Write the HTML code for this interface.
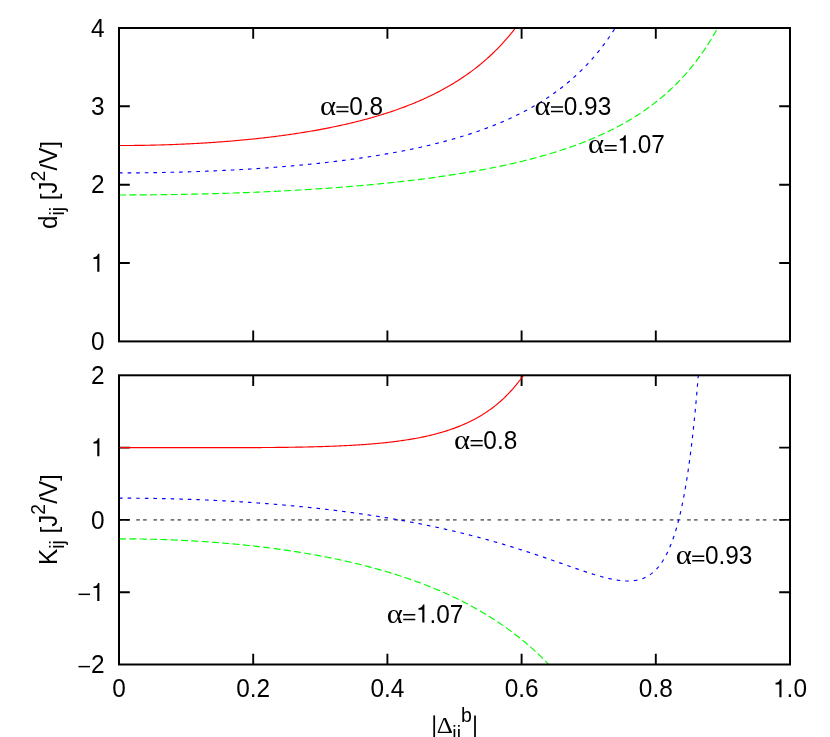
<!DOCTYPE html>
<html><head><meta charset="utf-8"><title>plot</title>
<style>html,body{margin:0;padding:0;background:#fff;overflow:hidden;}svg{display:block;will-change:transform;}</style>
</head><body>
<svg width="830" height="737" viewBox="0 0 830 737">
<defs>
<clipPath id="ct"><rect x="119.0" y="28.0" width="671.0" height="313.4"/></clipPath>
<clipPath id="cb"><rect x="119.0" y="375.3" width="671.0" height="289.2"/></clipPath>
</defs>
<rect width="830" height="737" fill="#fff"/>
<path d="M119.0,519.9 H790.0" stroke="#757575" stroke-width="1.7" stroke-dasharray="3.6 3.28 3.6 6.735" fill="none"/>
<path d="M253.2,341.4 v-10.8 M253.2,28.0 v10.8 M387.4,341.4 v-10.8 M387.4,28.0 v10.8 M521.6,341.4 v-10.8 M521.6,28.0 v10.8 M655.8,341.4 v-10.8 M655.8,28.0 v10.8 M119.0,263.0 h10.8 M790.0,263.0 h-10.8 M119.0,184.7 h10.8 M790.0,184.7 h-10.8 M119.0,106.3 h10.8 M790.0,106.3 h-10.8" stroke="#000" stroke-width="1.9" fill="none"/>
<path d="M253.2,664.5 v-10.8 M253.2,375.3 v10.8 M387.4,664.5 v-10.8 M387.4,375.3 v10.8 M521.6,664.5 v-10.8 M521.6,375.3 v10.8 M655.8,664.5 v-10.8 M655.8,375.3 v10.8 M119.0,592.2 h10.8 M790.0,592.2 h-10.8 M119.0,519.9 h10.8 M790.0,519.9 h-10.8 M119.0,447.6 h10.8 M790.0,447.6 h-10.8" stroke="#000" stroke-width="1.9" fill="none"/>
<g clip-path="url(#ct)" fill="none" stroke-width="1.15">
<path d="M119.00,145.52 L120.33,145.52 L121.66,145.52 L122.99,145.52 L124.31,145.52 L125.64,145.51 L126.97,145.50 L128.30,145.50 L129.63,145.49 L130.96,145.48 L132.29,145.46 L133.61,145.45 L134.94,145.44 L136.27,145.42 L137.60,145.41 L138.93,145.39 L140.26,145.37 L141.59,145.35 L142.91,145.33 L144.24,145.31 L145.57,145.28 L146.90,145.26 L148.23,145.23 L149.56,145.21 L150.89,145.18 L152.21,145.15 L153.54,145.12 L154.87,145.09 L156.20,145.05 L157.53,145.02 L158.86,144.98 L160.18,144.95 L161.51,144.91 L162.84,144.87 L164.17,144.83 L165.50,144.78 L166.83,144.74 L168.16,144.70 L169.48,144.65 L170.81,144.60 L172.14,144.56 L173.47,144.51 L174.80,144.46 L176.13,144.40 L177.46,144.35 L178.78,144.29 L180.11,144.24 L181.44,144.18 L182.77,144.12 L184.10,144.06 L185.43,144.00 L186.76,143.94 L188.08,143.88 L189.41,143.81 L190.74,143.74 L192.07,143.68 L193.40,143.61 L194.73,143.54 L196.06,143.46 L197.38,143.39 L198.71,143.32 L200.04,143.24 L201.37,143.16 L202.70,143.08 L204.03,143.00 L205.36,142.92 L206.68,142.84 L208.01,142.76 L209.34,142.67 L210.67,142.58 L212.00,142.49 L213.33,142.40 L214.66,142.31 L215.98,142.22 L217.31,142.13 L218.64,142.03 L219.97,141.93 L221.30,141.83 L222.63,141.73 L223.96,141.63 L225.28,141.53 L226.61,141.42 L227.94,141.32 L229.27,141.21 L230.60,141.10 L231.93,140.99 L233.25,140.88 L234.58,140.76 L235.91,140.65 L237.24,140.53 L238.57,140.41 L239.90,140.29 L241.23,140.17 L242.55,140.05 L243.88,139.92 L245.21,139.79 L246.54,139.67 L247.87,139.54 L249.20,139.40 L250.53,139.27 L251.85,139.13 L253.18,139.00 L254.51,138.86 L255.84,138.72 L257.17,138.58 L258.50,138.43 L259.83,138.29 L261.15,138.14 L262.48,137.99 L263.81,137.84 L265.14,137.69 L266.47,137.53 L267.80,137.37 L269.13,137.21 L270.45,137.05 L271.78,136.89 L273.11,136.73 L274.44,136.56 L275.77,136.39 L277.10,136.22 L278.43,136.05 L279.75,135.88 L281.08,135.70 L282.41,135.52 L283.74,135.34 L285.07,135.16 L286.40,134.98 L287.73,134.79 L289.05,134.60 L290.38,134.41 L291.71,134.22 L293.04,134.02 L294.37,133.82 L295.70,133.62 L297.03,133.42 L298.35,133.22 L299.68,133.01 L301.01,132.80 L302.34,132.59 L303.67,132.38 L305.00,132.16 L306.33,131.94 L307.65,131.72 L308.98,131.50 L310.31,131.28 L311.64,131.05 L312.97,130.82 L314.30,130.58 L315.62,130.35 L316.95,130.11 L318.28,129.87 L319.61,129.63 L320.94,129.38 L322.27,129.13 L323.60,128.88 L324.92,128.63 L326.25,128.37 L327.58,128.11 L328.91,127.85 L330.24,127.58 L331.57,127.31 L332.90,127.04 L334.22,126.77 L335.55,126.49 L336.88,126.21 L338.21,125.92 L339.54,125.64 L340.87,125.35 L342.20,125.05 L343.52,124.76 L344.85,124.46 L346.18,124.16 L347.51,123.85 L348.84,123.54 L350.17,123.23 L351.50,122.91 L352.82,122.59 L354.15,122.27 L355.48,121.94 L356.81,121.61 L358.14,121.28 L359.47,120.94 L360.80,120.60 L362.12,120.25 L363.45,119.90 L364.78,119.55 L366.11,119.19 L367.44,118.83 L368.77,118.46 L370.10,118.09 L371.42,117.72 L372.75,117.34 L374.08,116.96 L375.41,116.57 L376.74,116.18 L378.07,115.79 L379.40,115.39 L380.72,114.98 L382.05,114.57 L383.38,114.16 L384.71,113.74 L386.04,113.32 L387.37,112.89 L388.69,112.46 L390.02,112.02 L391.35,111.58 L392.68,111.13 L394.01,110.67 L395.34,110.21 L396.67,109.75 L397.99,109.28 L399.32,108.80 L400.65,108.32 L401.98,107.83 L403.31,107.34 L404.64,106.84 L405.97,106.34 L407.29,105.83 L408.62,105.31 L409.95,104.78 L411.28,104.25 L412.61,103.72 L413.94,103.18 L415.27,102.63 L416.59,102.07 L417.92,101.50 L419.25,100.93 L420.58,100.36 L421.91,99.77 L423.24,99.18 L424.57,98.58 L425.89,97.97 L427.22,97.35 L428.55,96.73 L429.88,96.10 L431.21,95.46 L432.54,94.81 L433.87,94.16 L435.19,93.49 L436.52,92.82 L437.85,92.13 L439.18,91.44 L440.51,90.74 L441.84,90.03 L443.17,89.31 L444.49,88.58 L445.82,87.84 L447.15,87.09 L448.48,86.33 L449.81,85.56 L451.14,84.77 L452.47,83.98 L453.79,83.18 L455.12,82.36 L456.45,81.53 L457.78,80.69 L459.11,79.84 L460.44,78.98 L461.76,78.10 L463.09,77.22 L464.42,76.31 L465.75,75.40 L467.08,74.47 L468.41,73.53 L469.74,72.57 L471.06,71.60 L472.39,70.61 L473.72,69.61 L475.05,68.59 L476.38,67.56 L477.71,66.51 L479.04,65.44 L480.36,64.36 L481.69,63.26 L483.02,62.14 L484.35,61.01 L485.68,59.85 L487.01,58.68 L488.34,57.49 L489.66,56.27 L490.99,55.04 L492.32,53.79 L493.65,52.51 L494.98,51.21 L496.31,49.89 L497.64,48.55 L498.96,47.18 L500.29,45.79 L501.62,44.38 L502.95,42.94 L504.28,41.47 L505.61,39.98 L506.94,38.46 L508.26,36.91 L509.59,35.33 L510.92,33.72 L512.25,32.08 L513.58,30.41 L514.91,28.71 L516.24,26.97 L517.56,25.20 L518.89,23.40 L520.22,21.56 L521.55,19.68 L522.88,17.76 L524.21,15.80 L525.54,13.80 L526.86,11.76 L528.19,9.68 L529.52,7.55 L530.85,5.38 L532.18,3.16 L533.51,0.89 L534.84,-1.44 L536.16,-3.81 L537.49,-6.24 L538.82,-8.73 L540.15,-11.27 L541.48,-13.87 L542.81,-16.54 L544.13,-19.27 L545.46,-22.06 L546.79,-24.93 L548.12,-27.87 L549.45,-30.88 L550.78,-33.97 L552.11,-37.14 L553.43,-40.39 L554.76,-43.73 L556.09,-47.16 L557.42,-50.35" stroke="#ff0000"/>
<path d="M119.00,194.95 L120.68,194.95 L122.36,194.95 L124.04,194.95 L125.72,194.94 L127.40,194.94 L129.08,194.94 L130.76,194.93 L132.44,194.93 L134.12,194.92 L135.80,194.91 L137.48,194.90 L139.16,194.89 L140.84,194.88 L142.52,194.87 L144.20,194.86 L145.88,194.85 L147.56,194.84 L149.24,194.82 L150.92,194.81 L152.60,194.79 L154.28,194.77 L155.96,194.76 L157.64,194.74 L159.32,194.72 L161.00,194.70 L162.68,194.68 L164.36,194.66 L166.04,194.64 L167.72,194.61 L169.40,194.59 L171.08,194.56 L172.76,194.54 L174.44,194.51 L176.12,194.48 L177.80,194.46 L179.48,194.43 L181.16,194.40 L182.84,194.37 L184.52,194.34 L186.20,194.30 L187.88,194.27 L189.56,194.24 L191.24,194.20 L192.92,194.17 L194.60,194.13 L196.28,194.09 L197.96,194.05 L199.64,194.02 L201.32,193.98 L203.00,193.94 L204.68,193.89 L206.36,193.85 L208.04,193.81 L209.72,193.76 L211.40,193.72 L213.08,193.67 L214.76,193.63 L216.44,193.58 L218.12,193.53 L219.80,193.48 L221.48,193.43 L223.16,193.38 L224.84,193.32 L226.52,193.27 L228.20,193.22 L229.88,193.16 L231.56,193.11 L233.24,193.05 L234.92,192.99 L236.60,192.93 L238.28,192.87 L239.96,192.81 L241.64,192.75 L243.32,192.69 L245.00,192.62 L246.68,192.56 L248.36,192.49 L250.04,192.43 L251.72,192.36 L253.40,192.29 L255.08,192.22 L256.76,192.15 L258.44,192.08 L260.12,192.01 L261.80,191.94 L263.48,191.86 L265.16,191.79 L266.84,191.71 L268.52,191.63 L270.20,191.55 L271.88,191.47 L273.56,191.39 L275.24,191.31 L276.92,191.23 L278.60,191.14 L280.28,191.06 L281.96,190.97 L283.64,190.89 L285.32,190.80 L287.00,190.71 L288.68,190.62 L290.36,190.53 L292.04,190.44 L293.72,190.34 L295.40,190.25 L297.08,190.15 L298.76,190.05 L300.44,189.96 L302.12,189.86 L303.80,189.76 L305.48,189.65 L307.16,189.55 L308.84,189.45 L310.52,189.34 L312.20,189.24 L313.88,189.13 L315.56,189.02 L317.24,188.91 L318.92,188.80 L320.60,188.68 L322.28,188.57 L323.96,188.45 L325.64,188.34 L327.32,188.22 L329.00,188.10 L330.68,187.98 L332.36,187.86 L334.04,187.74 L335.72,187.61 L337.40,187.48 L339.08,187.36 L340.76,187.23 L342.44,187.10 L344.12,186.97 L345.80,186.83 L347.48,186.70 L349.16,186.56 L350.84,186.43 L352.52,186.29 L354.20,186.15 L355.88,186.01 L357.56,185.86 L359.24,185.72 L360.92,185.57 L362.60,185.43 L364.28,185.28 L365.96,185.12 L367.64,184.97 L369.32,184.82 L371.00,184.66 L372.68,184.51 L374.36,184.35 L376.04,184.19 L377.72,184.02 L379.40,183.86 L381.08,183.69 L382.76,183.53 L384.44,183.36 L386.12,183.19 L387.80,183.01 L389.48,182.84 L391.16,182.66 L392.84,182.49 L394.52,182.31 L396.20,182.12 L397.88,181.94 L399.56,181.75 L401.24,181.57 L402.92,181.38 L404.60,181.19 L406.28,180.99 L407.96,180.80 L409.64,180.60 L411.32,180.40 L413.00,180.20 L414.68,180.00 L416.36,179.79 L418.04,179.58 L419.72,179.37 L421.40,179.16 L423.08,178.95 L424.76,178.73 L426.44,178.51 L428.12,178.29 L429.80,178.06 L431.48,177.84 L433.16,177.61 L434.84,177.38 L436.52,177.15 L438.20,176.91 L439.88,176.67 L441.56,176.43 L443.24,176.19 L444.92,175.95 L446.60,175.70 L448.28,175.45 L449.96,175.19 L451.64,174.94 L453.32,174.68 L455.00,174.42 L456.68,174.15 L458.36,173.89 L460.04,173.62 L461.72,173.34 L463.40,173.07 L465.08,172.79 L466.76,172.51 L468.44,172.22 L470.12,171.93 L471.80,171.64 L473.48,171.35 L475.16,171.05 L476.84,170.75 L478.52,170.45 L480.20,170.14 L481.88,169.83 L483.56,169.51 L485.24,169.20 L486.92,168.87 L488.60,168.55 L490.28,168.22 L491.97,167.89 L493.65,167.55 L495.33,167.21 L497.01,166.87 L498.69,166.52 L500.37,166.17 L502.05,165.82 L503.73,165.46 L505.41,165.09 L507.09,164.73 L508.77,164.35 L510.45,163.98 L512.13,163.60 L513.81,163.21 L515.49,162.82 L517.17,162.43 L518.85,162.03 L520.53,161.63 L522.21,161.22 L523.89,160.81 L525.57,160.39 L527.25,159.96 L528.93,159.54 L530.61,159.10 L532.29,158.66 L533.97,158.22 L535.65,157.77 L537.33,157.32 L539.01,156.86 L540.69,156.39 L542.37,155.92 L544.05,155.44 L545.73,154.96 L547.41,154.47 L549.09,153.97 L550.77,153.47 L552.45,152.96 L554.13,152.44 L555.81,151.92 L557.49,151.39 L559.17,150.86 L560.85,150.31 L562.53,149.76 L564.21,149.21 L565.89,148.64 L567.57,148.07 L569.25,147.49 L570.93,146.90 L572.61,146.31 L574.29,145.70 L575.97,145.09 L577.65,144.47 L579.33,143.84 L581.01,143.20 L582.69,142.56 L584.37,141.90 L586.05,141.23 L587.73,140.56 L589.41,139.88 L591.09,139.18 L592.77,138.48 L594.45,137.76 L596.13,137.04 L597.81,136.30 L599.49,135.55 L601.17,134.80 L602.85,134.03 L604.53,133.25 L606.21,132.45 L607.89,131.65 L609.57,130.83 L611.25,130.00 L612.93,129.16 L614.61,128.30 L616.29,127.43 L617.97,126.55 L619.65,125.65 L621.33,124.74 L623.01,123.81 L624.69,122.87 L626.37,121.91 L628.05,120.93 L629.73,119.94 L631.41,118.94 L633.09,117.91 L634.77,116.87 L636.45,115.81 L638.13,114.73 L639.81,113.63 L641.49,112.52 L643.17,111.38 L644.85,110.22 L646.53,109.04 L648.21,107.84 L649.89,106.62 L651.57,105.38 L653.25,104.11 L654.93,102.81 L656.61,101.50 L658.29,100.16 L659.97,98.79 L661.65,97.39 L663.33,95.97 L665.01,94.52 L666.69,93.04 L668.37,91.53 L670.05,89.98 L671.73,88.41 L673.41,86.80 L675.09,85.16 L676.77,83.49 L678.45,81.78 L680.13,80.03 L681.81,78.24 L683.49,76.41 L685.17,74.54 L686.85,72.63 L688.53,70.68 L690.21,68.68 L691.89,66.63 L693.57,64.53 L695.25,62.39 L696.93,60.19 L698.61,57.93 L700.29,55.63 L701.97,53.26 L703.65,50.83 L705.33,48.34 L707.01,45.79 L708.69,43.16 L710.37,40.47 L712.05,37.70 L713.73,34.86 L715.41,31.94 L717.09,28.93 L718.77,25.84 L720.45,22.66 L722.13,19.39 L723.81,16.01 L725.49,12.54 L727.17,8.96 L728.85,5.26 L730.53,1.45 L732.21,-2.49 L733.89,-6.55 L735.57,-10.75 L737.25,-15.09 L738.93,-19.59 L740.61,-24.24 L742.29,-29.05 L743.97,-34.04 L745.65,-39.22 L747.33,-44.59 L749.01,-50.16 L750.69,-50.35" stroke="#00ff00" stroke-dasharray="7.05 3.28"/>
<path d="M119.00,172.91 L120.55,172.90 L122.09,172.90 L123.64,172.90 L125.19,172.90 L126.74,172.89 L128.28,172.89 L129.83,172.88 L131.38,172.87 L132.92,172.86 L134.47,172.85 L136.02,172.84 L137.57,172.83 L139.11,172.82 L140.66,172.80 L142.21,172.79 L143.75,172.77 L145.30,172.76 L146.85,172.74 L148.40,172.72 L149.94,172.70 L151.49,172.68 L153.04,172.65 L154.58,172.63 L156.13,172.61 L157.68,172.58 L159.23,172.55 L160.77,172.53 L162.32,172.50 L163.87,172.47 L165.42,172.44 L166.96,172.40 L168.51,172.37 L170.06,172.34 L171.60,172.30 L173.15,172.27 L174.70,172.23 L176.25,172.19 L177.79,172.15 L179.34,172.11 L180.89,172.07 L182.43,172.03 L183.98,171.98 L185.53,171.94 L187.08,171.89 L188.62,171.84 L190.17,171.80 L191.72,171.75 L193.26,171.70 L194.81,171.64 L196.36,171.59 L197.91,171.54 L199.45,171.48 L201.00,171.43 L202.55,171.37 L204.09,171.31 L205.64,171.25 L207.19,171.19 L208.74,171.13 L210.28,171.06 L211.83,171.00 L213.38,170.93 L214.92,170.87 L216.47,170.80 L218.02,170.73 L219.57,170.66 L221.11,170.59 L222.66,170.51 L224.21,170.44 L225.75,170.37 L227.30,170.29 L228.85,170.21 L230.40,170.13 L231.94,170.05 L233.49,169.97 L235.04,169.89 L236.58,169.80 L238.13,169.72 L239.68,169.63 L241.23,169.54 L242.77,169.46 L244.32,169.36 L245.87,169.27 L247.41,169.18 L248.96,169.09 L250.51,168.99 L252.06,168.89 L253.60,168.79 L255.15,168.69 L256.70,168.59 L258.25,168.49 L259.79,168.39 L261.34,168.28 L262.89,168.17 L264.43,168.07 L265.98,167.96 L267.53,167.85 L269.08,167.73 L270.62,167.62 L272.17,167.50 L273.72,167.39 L275.26,167.27 L276.81,167.15 L278.36,167.03 L279.91,166.91 L281.45,166.78 L283.00,166.65 L284.55,166.53 L286.09,166.40 L287.64,166.27 L289.19,166.14 L290.74,166.00 L292.28,165.87 L293.83,165.73 L295.38,165.59 L296.92,165.45 L298.47,165.31 L300.02,165.16 L301.57,165.02 L303.11,164.87 L304.66,164.72 L306.21,164.57 L307.75,164.42 L309.30,164.27 L310.85,164.11 L312.40,163.95 L313.94,163.79 L315.49,163.63 L317.04,163.47 L318.58,163.31 L320.13,163.14 L321.68,162.97 L323.23,162.80 L324.77,162.63 L326.32,162.45 L327.87,162.28 L329.41,162.10 L330.96,161.92 L332.51,161.74 L334.06,161.55 L335.60,161.36 L337.15,161.18 L338.70,160.99 L340.25,160.79 L341.79,160.60 L343.34,160.40 L344.89,160.20 L346.43,160.00 L347.98,159.80 L349.53,159.59 L351.08,159.38 L352.62,159.17 L354.17,158.96 L355.72,158.74 L357.26,158.53 L358.81,158.31 L360.36,158.09 L361.91,157.86 L363.45,157.63 L365.00,157.40 L366.55,157.17 L368.09,156.94 L369.64,156.70 L371.19,156.46 L372.74,156.22 L374.28,155.97 L375.83,155.72 L377.38,155.47 L378.92,155.22 L380.47,154.96 L382.02,154.71 L383.57,154.44 L385.11,154.18 L386.66,153.91 L388.21,153.64 L389.75,153.37 L391.30,153.09 L392.85,152.81 L394.40,152.53 L395.94,152.24 L397.49,151.95 L399.04,151.66 L400.58,151.37 L402.13,151.07 L403.68,150.76 L405.23,150.46 L406.77,150.15 L408.32,149.84 L409.87,149.52 L411.41,149.20 L412.96,148.88 L414.51,148.55 L416.06,148.22 L417.60,147.89 L419.15,147.55 L420.70,147.21 L422.24,146.86 L423.79,146.51 L425.34,146.16 L426.89,145.80 L428.43,145.44 L429.98,145.07 L431.53,144.70 L433.08,144.32 L434.62,143.95 L436.17,143.56 L437.72,143.17 L439.26,142.78 L440.81,142.38 L442.36,141.98 L443.91,141.57 L445.45,141.16 L447.00,140.75 L448.55,140.32 L450.09,139.90 L451.64,139.46 L453.19,139.03 L454.74,138.59 L456.28,138.14 L457.83,137.68 L459.38,137.23 L460.92,136.76 L462.47,136.29 L464.02,135.81 L465.57,135.33 L467.11,134.84 L468.66,134.35 L470.21,133.85 L471.75,133.34 L473.30,132.83 L474.85,132.31 L476.40,131.78 L477.94,131.25 L479.49,130.71 L481.04,130.16 L482.58,129.61 L484.13,129.05 L485.68,128.48 L487.23,127.90 L488.77,127.32 L490.32,126.73 L491.87,126.13 L493.41,125.52 L494.96,124.90 L496.51,124.28 L498.06,123.64 L499.60,123.00 L501.15,122.35 L502.70,121.69 L504.24,121.02 L505.79,120.35 L507.34,119.66 L508.89,118.96 L510.43,118.25 L511.98,117.54 L513.53,116.81 L515.07,116.07 L516.62,115.32 L518.17,114.56 L519.72,113.79 L521.26,113.01 L522.81,112.21 L524.36,111.41 L525.91,110.59 L527.45,109.76 L529.00,108.92 L530.55,108.06 L532.09,107.19 L533.64,106.31 L535.19,105.41 L536.74,104.50 L538.28,103.57 L539.83,102.63 L541.38,101.68 L542.92,100.71 L544.47,99.72 L546.02,98.72 L547.57,97.70 L549.11,96.66 L550.66,95.61 L552.21,94.54 L553.75,93.45 L555.30,92.34 L556.85,91.21 L558.40,90.06 L559.94,88.90 L561.49,87.71 L563.04,86.50 L564.58,85.27 L566.13,84.02 L567.68,82.74 L569.23,81.44 L570.77,80.12 L572.32,78.77 L573.87,77.40 L575.41,76.00 L576.96,74.57 L578.51,73.12 L580.06,71.64 L581.60,70.12 L583.15,68.58 L584.70,67.01 L586.24,65.41 L587.79,63.77 L589.34,62.10 L590.89,60.39 L592.43,58.65 L593.98,56.87 L595.53,55.06 L597.07,53.20 L598.62,51.31 L600.17,49.37 L601.72,47.39 L603.26,45.36 L604.81,43.29 L606.36,41.17 L607.91,39.00 L609.45,36.78 L611.00,34.51 L612.55,32.18 L614.09,29.79 L615.64,27.35 L617.19,24.84 L618.74,22.28 L620.28,19.64 L621.83,16.94 L623.38,14.17 L624.92,11.32 L626.47,8.40 L628.02,5.40 L629.57,2.31 L631.11,-0.86 L632.66,-4.12 L634.21,-7.47 L635.75,-10.93 L637.30,-14.48 L638.85,-18.14 L640.40,-21.91 L641.94,-25.80 L643.49,-29.81 L645.04,-33.95 L646.58,-38.22 L648.13,-42.64 L649.68,-47.20 L651.23,-50.35" stroke="#0000ff" stroke-dasharray="3.6 5.0"/>
</g>
<g clip-path="url(#cb)" fill="none" stroke-width="1.15">
<path d="M119.00,447.60 L120.33,447.60 L121.66,447.60 L122.99,447.60 L124.31,447.60 L125.64,447.60 L126.97,447.60 L128.30,447.60 L129.63,447.60 L130.96,447.60 L132.29,447.60 L133.61,447.60 L134.94,447.60 L136.27,447.60 L137.60,447.61 L138.93,447.61 L140.26,447.61 L141.59,447.61 L142.91,447.61 L144.24,447.61 L145.57,447.61 L146.90,447.61 L148.23,447.61 L149.56,447.61 L150.89,447.61 L152.21,447.62 L153.54,447.62 L154.87,447.62 L156.20,447.62 L157.53,447.62 L158.86,447.62 L160.18,447.62 L161.51,447.62 L162.84,447.63 L164.17,447.63 L165.50,447.63 L166.83,447.63 L168.16,447.63 L169.48,447.63 L170.81,447.63 L172.14,447.64 L173.47,447.64 L174.80,447.64 L176.13,447.64 L177.46,447.64 L178.78,447.64 L180.11,447.65 L181.44,447.65 L182.77,447.65 L184.10,447.65 L185.43,447.65 L186.76,447.65 L188.08,447.65 L189.41,447.66 L190.74,447.66 L192.07,447.66 L193.40,447.66 L194.73,447.66 L196.06,447.66 L197.38,447.66 L198.71,447.66 L200.04,447.67 L201.37,447.67 L202.70,447.67 L204.03,447.67 L205.36,447.67 L206.68,447.67 L208.01,447.67 L209.34,447.67 L210.67,447.67 L212.00,447.67 L213.33,447.67 L214.66,447.67 L215.98,447.67 L217.31,447.67 L218.64,447.67 L219.97,447.67 L221.30,447.67 L222.63,447.67 L223.96,447.67 L225.28,447.67 L226.61,447.67 L227.94,447.67 L229.27,447.66 L230.60,447.66 L231.93,447.66 L233.25,447.66 L234.58,447.66 L235.91,447.65 L237.24,447.65 L238.57,447.65 L239.90,447.65 L241.23,447.64 L242.55,447.64 L243.88,447.63 L245.21,447.63 L246.54,447.63 L247.87,447.62 L249.20,447.62 L250.53,447.61 L251.85,447.61 L253.18,447.60 L254.51,447.59 L255.84,447.59 L257.17,447.58 L258.50,447.57 L259.83,447.57 L261.15,447.56 L262.48,447.55 L263.81,447.54 L265.14,447.53 L266.47,447.52 L267.80,447.51 L269.13,447.50 L270.45,447.49 L271.78,447.48 L273.11,447.47 L274.44,447.46 L275.77,447.44 L277.10,447.43 L278.43,447.42 L279.75,447.40 L281.08,447.39 L282.41,447.37 L283.74,447.36 L285.07,447.34 L286.40,447.32 L287.73,447.31 L289.05,447.29 L290.38,447.27 L291.71,447.25 L293.04,447.23 L294.37,447.21 L295.70,447.18 L297.03,447.16 L298.35,447.14 L299.68,447.11 L301.01,447.09 L302.34,447.06 L303.67,447.04 L305.00,447.01 L306.33,446.98 L307.65,446.95 L308.98,446.92 L310.31,446.89 L311.64,446.86 L312.97,446.83 L314.30,446.79 L315.62,446.76 L316.95,446.72 L318.28,446.68 L319.61,446.65 L320.94,446.61 L322.27,446.57 L323.60,446.52 L324.92,446.48 L326.25,446.44 L327.58,446.39 L328.91,446.34 L330.24,446.30 L331.57,446.25 L332.90,446.20 L334.22,446.14 L335.55,446.09 L336.88,446.04 L338.21,445.98 L339.54,445.92 L340.87,445.86 L342.20,445.80 L343.52,445.74 L344.85,445.67 L346.18,445.61 L347.51,445.54 L348.84,445.47 L350.17,445.40 L351.50,445.32 L352.82,445.25 L354.15,445.17 L355.48,445.09 L356.81,445.01 L358.14,444.92 L359.47,444.84 L360.80,444.75 L362.12,444.66 L363.45,444.57 L364.78,444.47 L366.11,444.37 L367.44,444.27 L368.77,444.17 L370.10,444.07 L371.42,443.96 L372.75,443.85 L374.08,443.74 L375.41,443.62 L376.74,443.50 L378.07,443.38 L379.40,443.25 L380.72,443.13 L382.05,443.00 L383.38,442.86 L384.71,442.72 L386.04,442.58 L387.37,442.44 L388.69,442.29 L390.02,442.14 L391.35,441.99 L392.68,441.83 L394.01,441.66 L395.34,441.50 L396.67,441.33 L397.99,441.15 L399.32,440.97 L400.65,440.79 L401.98,440.60 L403.31,440.41 L404.64,440.21 L405.97,440.01 L407.29,439.80 L408.62,439.59 L409.95,439.38 L411.28,439.15 L412.61,438.93 L413.94,438.69 L415.27,438.46 L416.59,438.21 L417.92,437.96 L419.25,437.71 L420.58,437.45 L421.91,437.18 L423.24,436.90 L424.57,436.62 L425.89,436.33 L427.22,436.04 L428.55,435.74 L429.88,435.43 L431.21,435.11 L432.54,434.79 L433.87,434.46 L435.19,434.12 L436.52,433.77 L437.85,433.41 L439.18,433.05 L440.51,432.67 L441.84,432.29 L443.17,431.90 L444.49,431.49 L445.82,431.08 L447.15,430.66 L448.48,430.23 L449.81,429.79 L451.14,429.33 L452.47,428.87 L453.79,428.39 L455.12,427.90 L456.45,427.41 L457.78,426.89 L459.11,426.37 L460.44,425.83 L461.76,425.28 L463.09,424.72 L464.42,424.14 L465.75,423.54 L467.08,422.94 L468.41,422.31 L469.74,421.68 L471.06,421.02 L472.39,420.35 L473.72,419.66 L475.05,418.96 L476.38,418.23 L477.71,417.49 L479.04,416.73 L480.36,415.95 L481.69,415.15 L483.02,414.33 L484.35,413.48 L485.68,412.62 L487.01,411.73 L488.34,410.82 L489.66,409.89 L490.99,408.93 L492.32,407.94 L493.65,406.93 L494.98,405.89 L496.31,404.83 L497.64,403.74 L498.96,402.61 L500.29,401.46 L501.62,400.27 L502.95,399.06 L504.28,397.80 L505.61,396.52 L506.94,395.20 L508.26,393.84 L509.59,392.44 L510.92,391.01 L512.25,389.53 L513.58,388.02 L514.91,386.46 L516.24,384.85 L517.56,383.20 L518.89,381.50 L520.22,379.75 L521.55,377.95 L522.88,376.10 L524.21,374.19 L525.54,372.23 L526.86,370.20 L528.19,368.12 L529.52,365.97 L530.85,363.76 L532.18,361.47 L533.51,359.12 L534.84,356.70 L536.16,354.20 L537.49,351.62 L538.82,348.95 L540.15,346.20 L541.48,343.37 L542.81,340.44 L544.13,337.41 L545.46,334.29 L546.79,331.06 L548.12,327.72 L549.45,324.27 L550.78,320.71 L552.11,317.01 L553.43,313.20 L554.76,309.24 L556.09,305.15 L557.42,303.00" stroke="#ff0000"/>
<path d="M119.00,538.82 L120.68,538.82 L122.36,538.82 L124.04,538.83 L125.72,538.84 L127.40,538.85 L129.08,538.86 L130.76,538.87 L132.44,538.89 L134.12,538.91 L135.80,538.93 L137.48,538.95 L139.16,538.97 L140.84,539.00 L142.52,539.03 L144.20,539.06 L145.88,539.09 L147.56,539.13 L149.24,539.17 L150.92,539.21 L152.60,539.25 L154.28,539.29 L155.96,539.34 L157.64,539.39 L159.32,539.44 L161.00,539.49 L162.68,539.55 L164.36,539.61 L166.04,539.67 L167.72,539.73 L169.40,539.79 L171.08,539.86 L172.76,539.93 L174.44,540.00 L176.12,540.07 L177.80,540.15 L179.48,540.22 L181.16,540.30 L182.84,540.38 L184.52,540.47 L186.20,540.56 L187.88,540.64 L189.56,540.74 L191.24,540.83 L192.92,540.92 L194.60,541.02 L196.28,541.12 L197.96,541.23 L199.64,541.33 L201.32,541.44 L203.00,541.55 L204.68,541.66 L206.36,541.78 L208.04,541.89 L209.72,542.01 L211.40,542.13 L213.08,542.26 L214.76,542.38 L216.44,542.51 L218.12,542.65 L219.80,542.78 L221.48,542.92 L223.16,543.06 L224.84,543.20 L226.52,543.34 L228.20,543.49 L229.88,543.64 L231.56,543.79 L233.24,543.94 L234.92,544.10 L236.60,544.26 L238.28,544.42 L239.96,544.59 L241.64,544.75 L243.32,544.92 L245.00,545.10 L246.68,545.27 L248.36,545.45 L250.04,545.63 L251.72,545.81 L253.40,546.00 L255.08,546.19 L256.76,546.38 L258.44,546.58 L260.12,546.77 L261.80,546.97 L263.48,547.18 L265.16,547.38 L266.84,547.59 L268.52,547.80 L270.20,548.02 L271.88,548.24 L273.56,548.46 L275.24,548.68 L276.92,548.91 L278.60,549.14 L280.28,549.37 L281.96,549.61 L283.64,549.85 L285.32,550.09 L287.00,550.33 L288.68,550.58 L290.36,550.83 L292.04,551.09 L293.72,551.35 L295.40,551.61 L297.08,551.87 L298.76,552.14 L300.44,552.41 L302.12,552.69 L303.80,552.97 L305.48,553.25 L307.16,553.54 L308.84,553.82 L310.52,554.12 L312.20,554.41 L313.88,554.71 L315.56,555.02 L317.24,555.32 L318.92,555.63 L320.60,555.95 L322.28,556.27 L323.96,556.59 L325.64,556.92 L327.32,557.25 L329.00,557.58 L330.68,557.92 L332.36,558.26 L334.04,558.60 L335.72,558.95 L337.40,559.31 L339.08,559.67 L340.76,560.03 L342.44,560.40 L344.12,560.77 L345.80,561.14 L347.48,561.52 L349.16,561.91 L350.84,562.29 L352.52,562.69 L354.20,563.08 L355.88,563.49 L357.56,563.89 L359.24,564.30 L360.92,564.72 L362.60,565.14 L364.28,565.57 L365.96,566.00 L367.64,566.43 L369.32,566.88 L371.00,567.32 L372.68,567.77 L374.36,568.23 L376.04,568.69 L377.72,569.16 L379.40,569.63 L381.08,570.11 L382.76,570.59 L384.44,571.08 L386.12,571.57 L387.80,572.07 L389.48,572.58 L391.16,573.09 L392.84,573.61 L394.52,574.13 L396.20,574.66 L397.88,575.20 L399.56,575.74 L401.24,576.29 L402.92,576.84 L404.60,577.40 L406.28,577.97 L407.96,578.54 L409.64,579.12 L411.32,579.71 L413.00,580.31 L414.68,580.91 L416.36,581.52 L418.04,582.13 L419.72,582.76 L421.40,583.39 L423.08,584.02 L424.76,584.67 L426.44,585.32 L428.12,585.98 L429.80,586.65 L431.48,587.33 L433.16,588.01 L434.84,588.71 L436.52,589.41 L438.20,590.12 L439.88,590.84 L441.56,591.56 L443.24,592.30 L444.92,593.04 L446.60,593.80 L448.28,594.56 L449.96,595.33 L451.64,596.12 L453.32,596.91 L455.00,597.71 L456.68,598.52 L458.36,599.34 L460.04,600.17 L461.72,601.02 L463.40,601.87 L465.08,602.73 L466.76,603.61 L468.44,604.49 L470.12,605.39 L471.80,606.30 L473.48,607.22 L475.16,608.15 L476.84,609.09 L478.52,610.05 L480.20,611.02 L481.88,612.00 L483.56,613.00 L485.24,614.00 L486.92,615.02 L488.60,616.06 L490.28,617.11 L491.97,618.17 L493.65,619.25 L495.33,620.34 L497.01,621.44 L498.69,622.56 L500.37,623.70 L502.05,624.85 L503.73,626.02 L505.41,627.20 L507.09,628.40 L508.77,629.62 L510.45,630.86 L512.13,632.11 L513.81,633.38 L515.49,634.67 L517.17,635.97 L518.85,637.30 L520.53,638.64 L522.21,640.01 L523.89,641.39 L525.57,642.79 L527.25,644.22 L528.93,645.67 L530.61,647.13 L532.29,648.62 L533.97,650.14 L535.65,651.67 L537.33,653.23 L539.01,654.81 L540.69,656.42 L542.37,658.06 L544.05,659.71 L545.73,661.40 L547.41,663.11 L549.09,664.85 L550.77,666.62 L552.45,668.41 L554.13,670.23 L555.81,672.09 L557.49,673.97 L559.17,675.89 L560.85,677.84 L562.53,679.82 L564.21,681.83 L565.89,683.88 L567.57,685.96 L569.25,688.08 L570.93,690.24 L572.61,692.43 L574.29,694.67 L575.97,696.94 L577.65,699.25 L579.33,701.61 L581.01,704.01 L582.69,706.45 L584.37,708.93 L586.05,711.47 L587.73,714.05 L589.41,716.68 L591.09,719.36 L592.77,722.09 L594.45,724.87 L596.13,727.71 L597.81,730.60 L599.49,733.55 L601.17,736.56 L602.85,736.80" stroke="#00ff00" stroke-dasharray="7.05 3.28"/>
<path d="M119.00,498.13 L119.69,498.13 L120.37,498.13 L121.06,498.13 L121.75,498.13 L122.43,498.14 L123.12,498.14 L123.81,498.14 L124.49,498.14 L125.18,498.14 L125.87,498.14 L126.55,498.15 L127.24,498.15 L127.93,498.15 L128.61,498.15 L129.30,498.16 L129.99,498.16 L130.67,498.17 L131.36,498.17 L132.05,498.17 L132.73,498.18 L133.42,498.18 L134.11,498.19 L134.79,498.19 L135.48,498.20 L136.17,498.20 L136.85,498.21 L137.54,498.22 L138.23,498.22 L138.91,498.23 L139.60,498.24 L140.29,498.24 L140.97,498.25 L141.66,498.26 L142.35,498.26 L143.03,498.27 L143.72,498.28 L144.41,498.29 L145.09,498.30 L145.78,498.31 L146.47,498.32 L147.15,498.33 L147.84,498.33 L148.53,498.34 L149.21,498.35 L149.90,498.36 L150.59,498.38 L151.27,498.39 L151.96,498.40 L152.65,498.41 L153.33,498.42 L154.02,498.43 L154.71,498.44 L155.39,498.45 L156.08,498.47 L156.77,498.48 L157.45,498.49 L158.14,498.51 L158.83,498.52 L159.51,498.53 L160.20,498.55 L160.89,498.56 L161.57,498.57 L162.26,498.59 L162.95,498.60 L163.63,498.62 L164.32,498.63 L165.01,498.65 L165.69,498.66 L166.38,498.68 L167.07,498.70 L167.75,498.71 L168.44,498.73 L169.13,498.75 L169.81,498.76 L170.50,498.78 L171.19,498.80 L171.87,498.81 L172.56,498.83 L173.25,498.85 L173.93,498.87 L174.62,498.89 L175.31,498.91 L175.99,498.93 L176.68,498.95 L177.37,498.96 L178.05,498.98 L178.74,499.00 L179.43,499.03 L180.11,499.05 L180.80,499.07 L181.49,499.09 L182.17,499.11 L182.86,499.13 L183.55,499.15 L184.23,499.17 L184.92,499.20 L185.61,499.22 L186.29,499.24 L186.98,499.26 L187.67,499.29 L188.35,499.31 L189.04,499.33 L189.73,499.36 L190.41,499.38 L191.10,499.41 L191.79,499.43 L192.47,499.46 L193.16,499.48 L193.85,499.51 L194.53,499.53 L195.22,499.56 L195.91,499.58 L196.59,499.61 L197.28,499.64 L197.97,499.66 L198.65,499.69 L199.34,499.72 L200.03,499.75 L200.71,499.77 L201.40,499.80 L202.09,499.83 L202.77,499.86 L203.46,499.89 L204.15,499.92 L204.83,499.94 L205.52,499.97 L206.21,500.00 L206.89,500.03 L207.58,500.06 L208.27,500.09 L208.95,500.13 L209.64,500.16 L210.33,500.19 L211.01,500.22 L211.70,500.25 L212.39,500.28 L213.07,500.32 L213.76,500.35 L214.45,500.38 L215.13,500.41 L215.82,500.45 L216.51,500.48 L217.19,500.51 L217.88,500.55 L218.57,500.58 L219.25,500.62 L219.94,500.65 L220.63,500.69 L221.31,500.72 L222.00,500.76 L222.69,500.79 L223.37,500.83 L224.06,500.86 L224.75,500.90 L225.43,500.94 L226.12,500.97 L226.81,501.01 L227.49,501.05 L228.18,501.09 L228.87,501.13 L229.55,501.16 L230.24,501.20 L230.93,501.24 L231.61,501.28 L232.30,501.32 L232.99,501.36 L233.67,501.40 L234.36,501.44 L235.05,501.48 L235.73,501.52 L236.42,501.56 L237.11,501.60 L237.79,501.64 L238.48,501.69 L239.17,501.73 L239.85,501.77 L240.54,501.81 L241.23,501.85 L241.91,501.90 L242.60,501.94 L243.29,501.98 L243.97,502.03 L244.66,502.07 L245.35,502.12 L246.03,502.16 L246.72,502.21 L247.41,502.25 L248.09,502.30 L248.78,502.34 L249.47,502.39 L250.15,502.43 L250.84,502.48 L251.53,502.53 L252.21,502.57 L252.90,502.62 L253.59,502.67 L254.27,502.72 L254.96,502.77 L255.65,502.81 L256.33,502.86 L257.02,502.91 L257.71,502.96 L258.39,503.01 L259.08,503.06 L259.77,503.11 L260.45,503.16 L261.14,503.21 L261.83,503.26 L262.51,503.31 L263.20,503.36 L263.89,503.42 L264.57,503.47 L265.26,503.52 L265.95,503.57 L266.63,503.63 L267.32,503.68 L268.01,503.73 L268.69,503.79 L269.38,503.84 L270.07,503.89 L270.75,503.95 L271.44,504.00 L272.13,504.06 L272.81,504.11 L273.50,504.17 L274.19,504.23 L274.88,504.28 L275.56,504.34 L276.25,504.40 L276.94,504.45 L277.62,504.51 L278.31,504.57 L279.00,504.63 L279.68,504.68 L280.37,504.74 L281.06,504.80 L281.74,504.86 L282.43,504.92 L283.12,504.98 L283.80,505.04 L284.49,505.10 L285.18,505.16 L285.86,505.22 L286.55,505.28 L287.24,505.34 L287.92,505.41 L288.61,505.47 L289.30,505.53 L289.98,505.59 L290.67,505.66 L291.36,505.72 L292.04,505.78 L292.73,505.85 L293.42,505.91 L294.10,505.98 L294.79,506.04 L295.48,506.11 L296.16,506.17 L296.85,506.24 L297.54,506.30 L298.22,506.37 L298.91,506.44 L299.60,506.50 L300.28,506.57 L300.97,506.64 L301.66,506.71 L302.34,506.78 L303.03,506.84 L303.72,506.91 L304.40,506.98 L305.09,507.05 L305.78,507.12 L306.46,507.19 L307.15,507.26 L307.84,507.33 L308.52,507.40 L309.21,507.48 L309.90,507.55 L310.58,507.62 L311.27,507.69 L311.96,507.77 L312.64,507.84 L313.33,507.91 L314.02,507.99 L314.70,508.06 L315.39,508.13 L316.08,508.21 L316.76,508.28 L317.45,508.36 L318.14,508.44 L318.82,508.51 L319.51,508.59 L320.20,508.66 L320.88,508.74 L321.57,508.82 L322.26,508.90 L322.94,508.97 L323.63,509.05 L324.32,509.13 L325.00,509.21 L325.69,509.29 L326.38,509.37 L327.06,509.45 L327.75,509.53 L328.44,509.61 L329.12,509.69 L329.81,509.77 L330.50,509.86 L331.18,509.94 L331.87,510.02 L332.56,510.10 L333.24,510.19 L333.93,510.27 L334.62,510.35 L335.30,510.44 L335.99,510.52 L336.68,510.61 L337.36,510.69 L338.05,510.78 L338.74,510.86 L339.42,510.95 L340.11,511.04 L340.80,511.12 L341.48,511.21 L342.17,511.30 L342.86,511.39 L343.54,511.48 L344.23,511.57 L344.92,511.65 L345.60,511.74 L346.29,511.83 L346.98,511.92 L347.66,512.02 L348.35,512.11 L349.04,512.20 L349.72,512.29 L350.41,512.38 L351.10,512.47 L351.78,512.57 L352.47,512.66 L353.16,512.75 L353.84,512.85 L354.53,512.94 L355.22,513.04 L355.90,513.13 L356.59,513.23 L357.28,513.32 L357.96,513.42 L358.65,513.52 L359.34,513.61 L360.02,513.71 L360.71,513.81 L361.40,513.91 L362.08,514.01 L362.77,514.11 L363.46,514.21 L364.14,514.31 L364.83,514.41 L365.52,514.51 L366.20,514.61 L366.89,514.71 L367.58,514.81 L368.26,514.91 L368.95,515.02 L369.64,515.12 L370.32,515.22 L371.01,515.33 L371.70,515.43 L372.38,515.53 L373.07,515.64 L373.76,515.74 L374.44,515.85 L375.13,515.96 L375.82,516.06 L376.50,516.17 L377.19,516.28 L377.88,516.39 L378.56,516.49 L379.25,516.60 L379.94,516.71 L380.62,516.82 L381.31,516.93 L382.00,517.04 L382.68,517.15 L383.37,517.26 L384.06,517.38 L384.74,517.49 L385.43,517.60 L386.12,517.71 L386.80,517.83 L387.49,517.94 L388.18,518.05 L388.86,518.17 L389.55,518.28 L390.24,518.40 L390.92,518.52 L391.61,518.63 L392.30,518.75 L392.98,518.87 L393.67,518.98 L394.36,519.10 L395.04,519.22 L395.73,519.34 L396.42,519.46 L397.10,519.58 L397.79,519.70 L398.48,519.82 L399.16,519.94 L399.85,520.06 L400.54,520.19 L401.22,520.31 L401.91,520.43 L402.60,520.56 L403.28,520.68 L403.97,520.80 L404.66,520.93 L405.34,521.05 L406.03,521.18 L406.72,521.31 L407.40,521.43 L408.09,521.56 L408.78,521.69 L409.46,521.82 L410.15,521.95 L410.84,522.08 L411.52,522.20 L412.21,522.33 L412.90,522.47 L413.58,522.60 L414.27,522.73 L414.96,522.86 L415.64,522.99 L416.33,523.13 L417.02,523.26 L417.70,523.39 L418.39,523.53 L419.08,523.66 L419.76,523.80 L420.45,523.93 L421.14,524.07 L421.82,524.21 L422.51,524.34 L423.20,524.48 L423.88,524.62 L424.57,524.76 L425.26,524.90 L425.94,525.04 L426.63,525.18 L427.32,525.32 L428.00,525.46 L428.69,525.60 L429.38,525.75 L430.06,525.89 L430.75,526.03 L431.44,526.18 L432.12,526.32 L432.81,526.47 L433.50,526.61 L434.18,526.76 L434.87,526.90 L435.56,527.05 L436.24,527.20 L436.93,527.35 L437.62,527.49 L438.30,527.64 L438.99,527.79 L439.68,527.94 L440.36,528.09 L441.05,528.25 L441.74,528.40 L442.42,528.55 L443.11,528.70 L443.80,528.86 L444.48,529.01 L445.17,529.16 L445.86,529.32 L446.54,529.48 L447.23,529.63 L447.92,529.79 L448.60,529.94 L449.29,530.10 L449.98,530.26 L450.66,530.42 L451.35,530.58 L452.04,530.74 L452.72,530.90 L453.41,531.06 L454.10,531.22 L454.78,531.38 L455.47,531.55 L456.16,531.71 L456.84,531.87 L457.53,532.04 L458.22,532.20 L458.90,532.37 L459.59,532.53 L460.28,532.70 L460.96,532.87 L461.65,533.04 L462.34,533.20 L463.02,533.37 L463.71,533.54 L464.40,533.71 L465.08,533.88 L465.77,534.05 L466.46,534.23 L467.14,534.40 L467.83,534.57 L468.52,534.75 L469.20,534.92 L469.89,535.09 L470.58,535.27 L471.26,535.44 L471.95,535.62 L472.64,535.80 L473.32,535.98 L474.01,536.15 L474.70,536.33 L475.38,536.51 L476.07,536.69 L476.76,536.87 L477.44,537.05 L478.13,537.23 L478.82,537.42 L479.50,537.60 L480.19,537.78 L480.88,537.97 L481.56,538.15 L482.25,538.34 L482.94,538.52 L483.62,538.71 L484.31,538.90 L485.00,539.08 L485.68,539.27 L486.37,539.46 L487.06,539.65 L487.74,539.84 L488.43,540.03 L489.12,540.22 L489.80,540.41 L490.49,540.61 L491.18,540.80 L491.86,540.99 L492.55,541.19 L493.24,541.38 L493.92,541.58 L494.61,541.77 L495.30,541.97 L495.98,542.17 L496.67,542.36 L497.36,542.56 L498.04,542.76 L498.73,542.96 L499.42,543.16 L500.10,543.36 L500.79,543.56 L501.48,543.77 L502.16,543.97 L502.85,544.17 L503.54,544.38 L504.22,544.58 L504.91,544.78 L505.60,544.99 L506.28,545.20 L506.97,545.40 L507.66,545.61 L508.34,545.82 L509.03,546.03 L509.72,546.24 L510.40,546.45 L511.09,546.66 L511.78,546.87 L512.46,547.08 L513.15,547.29 L513.84,547.50 L514.52,547.72 L515.21,547.93 L515.90,548.14 L516.58,548.36 L517.27,548.57 L517.96,548.79 L518.64,549.01 L519.33,549.22 L520.02,549.44 L520.70,549.66 L521.39,549.88 L522.08,550.10 L522.76,550.32 L523.45,550.54 L524.14,550.76 L524.82,550.98 L525.51,551.20 L526.20,551.43 L526.88,551.65 L527.57,551.87 L528.26,552.10 L528.94,552.32 L529.63,552.55 L530.32,552.77 L531.00,553.00 L531.69,553.22 L532.38,553.45 L533.06,553.68 L533.75,553.91 L534.44,554.14 L535.12,554.37 L535.81,554.60 L536.50,554.83 L537.18,555.06 L537.87,555.29 L538.56,555.52 L539.24,555.75 L539.93,555.98 L540.62,556.21 L541.30,556.45 L541.99,556.68 L542.68,556.92 L543.36,557.15 L544.05,557.38 L544.74,557.62 L545.42,557.85 L546.11,558.09 L546.80,558.33 L547.48,558.56 L548.17,558.80 L548.86,559.04 L549.54,559.27 L550.23,559.51 L550.92,559.75 L551.60,559.99 L552.29,560.23 L552.98,560.46 L553.66,560.70 L554.35,560.94 L555.04,561.18 L555.72,561.42 L556.41,561.66 L557.10,561.90 L557.78,562.14 L558.47,562.38 L559.16,562.62 L559.84,562.86 L560.53,563.10 L561.22,563.34 L561.90,563.58 L562.59,563.83 L563.28,564.07 L563.96,564.31 L564.65,564.55 L565.34,564.79 L566.02,565.03 L566.71,565.27 L567.40,565.51 L568.08,565.75 L568.77,565.99 L569.46,566.23 L570.14,566.47 L570.83,566.71 L571.52,566.95 L572.20,567.19 L572.89,567.43 L573.58,567.67 L574.26,567.90 L574.95,568.14 L575.64,568.38 L576.32,568.62 L577.01,568.85 L577.70,569.09 L578.38,569.32 L579.07,569.56 L579.76,569.79 L580.44,570.03 L581.13,570.26 L581.82,570.49 L582.51,570.72 L583.19,570.95 L583.88,571.18 L584.57,571.41 L585.25,571.64 L585.94,571.87 L586.63,572.09 L587.31,572.32 L588.00,572.54 L588.69,572.77 L589.37,572.99 L590.06,573.21 L590.75,573.43 L591.43,573.65 L592.12,573.86 L592.81,574.08 L593.49,574.29 L594.18,574.50 L594.87,574.71 L595.55,574.92 L596.24,575.13 L596.93,575.33 L597.61,575.53 L598.30,575.73 L598.99,575.93 L599.67,576.13 L600.36,576.32 L601.05,576.52 L601.73,576.70 L602.42,576.89 L603.11,577.08 L603.79,577.26 L604.48,577.44 L605.17,577.61 L605.85,577.79 L606.54,577.96 L607.23,578.12 L607.91,578.29 L608.60,578.45 L609.29,578.60 L609.97,578.76 L610.66,578.91 L611.35,579.05 L612.03,579.20 L612.72,579.33 L613.41,579.47 L614.09,579.60 L614.78,579.72 L615.47,579.84 L616.15,579.96 L616.84,580.07 L617.53,580.17 L618.21,580.27 L618.90,580.37 L619.59,580.45 L620.27,580.54 L620.96,580.61 L621.65,580.69 L622.33,580.75 L623.02,580.81 L623.71,580.86 L624.39,580.90 L625.08,580.94 L625.77,580.97 L626.45,580.99 L627.14,581.00 L627.83,581.01 L628.51,581.01 L629.20,580.99 L629.89,580.97 L630.57,580.94 L631.26,580.90 L631.95,580.86 L632.63,580.80 L633.32,580.73 L634.01,580.65 L634.69,580.55 L635.38,580.45 L636.07,580.33 L636.75,580.21 L637.44,580.07 L638.13,579.91 L638.81,579.75 L639.50,579.56 L640.19,579.37 L640.87,579.16 L641.56,578.93 L642.25,578.69 L642.93,578.44 L643.62,578.16 L644.31,577.87 L644.99,577.56 L645.68,577.23 L646.37,576.88 L647.05,576.52 L647.74,576.13 L648.43,575.72 L649.11,575.29 L649.80,574.84 L650.49,574.36 L651.17,573.86 L651.86,573.34 L652.55,572.79 L653.23,572.21 L653.92,571.61 L654.61,570.97 L655.29,570.31 L655.98,569.62 L656.67,568.90 L657.35,568.14 L658.04,567.35 L658.73,566.53 L659.41,565.67 L660.10,564.77 L660.79,563.83 L661.47,562.86 L662.16,561.84 L662.85,560.78 L663.53,559.68 L664.22,558.53 L664.91,557.33 L665.59,556.09 L666.28,554.79 L666.97,553.44 L667.65,552.04 L668.34,550.57 L669.03,549.05 L669.71,547.47 L670.40,545.83 L671.09,544.12 L671.77,542.34 L672.46,540.49 L673.15,538.56 L673.83,536.56 L674.52,534.48 L675.21,532.32 L675.89,530.07 L676.58,527.73 L677.27,525.29 L677.95,522.76 L678.64,520.13 L679.33,517.40 L680.01,514.55 L680.70,511.59 L681.39,508.52 L682.07,505.31 L682.76,501.98 L683.45,498.52 L684.13,494.91 L684.82,491.16 L685.51,487.25 L686.19,483.18 L686.88,478.95 L687.57,474.54 L688.25,469.95 L688.94,465.17 L689.63,460.18 L690.31,454.99 L691.00,449.57 L691.69,443.93 L692.37,438.04 L693.06,431.90 L693.75,425.50 L694.43,418.81 L695.12,411.83 L695.81,404.54 L696.49,396.93 L697.18,388.97 L697.87,380.66 L698.55,371.96 L699.24,362.86 L699.93,353.35 L700.61,343.38 L701.30,332.94 L701.99,322.01 L702.67,310.55 L703.36,303.00" stroke="#0000ff" stroke-dasharray="3.6 5.0"/>
</g>
<rect x="119.0" y="28.0" width="671.0" height="313.4" fill="none" stroke="#000" stroke-width="2"/>
<rect x="119.0" y="375.3" width="671.0" height="289.2" fill="none" stroke="#000" stroke-width="2"/>
<g font-family="'Liberation Sans', sans-serif" font-size="24.4" fill="#000">
<g transform="translate(104.50,350.10) scale(1.0,1)"><text transform="translate(-13.57,0.00) scale(1,1.057)" font-size="24.40">0</text></g>
<g transform="translate(104.50,271.75) scale(1.0,1)"><path transform="translate(-13.57,0.00) scale(0.02440,-0.02579)" d="M259,0 L259,497 L102,497 L102,557 C196,565 262,603 292,698 L347,698 L347,0 Z"/></g>
<g transform="translate(104.50,193.40) scale(1.0,1)"><text transform="translate(-13.57,0.00) scale(1,1.057)" font-size="24.40">2</text></g>
<g transform="translate(104.50,115.05) scale(1.0,1)"><text transform="translate(-13.57,0.00) scale(1,1.057)" font-size="24.40">3</text></g>
<g transform="translate(104.50,36.70) scale(1.0,1)"><text transform="translate(-13.57,0.00) scale(1,1.057)" font-size="24.40">4</text></g>
<g transform="translate(104.50,673.20) scale(1.0,1)"><path transform="translate(-26.96,0.00) scale(0.02440,-0.02579)" d="M39,226 H510 V284 H39 Z"/><text transform="translate(-13.57,0.00) scale(1,1.057)" font-size="24.40">2</text></g>
<g transform="translate(104.50,600.90) scale(1.0,1)"><path transform="translate(-26.96,0.00) scale(0.02440,-0.02579)" d="M39,226 H510 V284 H39 Z"/><path transform="translate(-13.57,0.00) scale(0.02440,-0.02579)" d="M259,0 L259,497 L102,497 L102,557 C196,565 262,603 292,698 L347,698 L347,0 Z"/></g>
<g transform="translate(104.50,528.60) scale(1.0,1)"><text transform="translate(-13.57,0.00) scale(1,1.057)" font-size="24.40">0</text></g>
<g transform="translate(104.50,456.30) scale(1.0,1)"><path transform="translate(-13.57,0.00) scale(0.02440,-0.02579)" d="M259,0 L259,497 L102,497 L102,557 C196,565 262,603 292,698 L347,698 L347,0 Z"/></g>
<g transform="translate(104.50,384.00) scale(1.0,1)"><text transform="translate(-13.57,0.00) scale(1,1.057)" font-size="24.40">2</text></g>
<g transform="translate(119.00,697.20) scale(1.0,1)"><text transform="translate(-6.78,0.00) scale(1,1.057)" font-size="24.40">0</text></g>
<g transform="translate(253.20,697.20) scale(1.0,1)"><text transform="translate(-16.96,0.00) scale(1,1.057)" font-size="24.40">0</text><text transform="translate(-3.39,0.00) scale(1,1.02)" font-size="24.40">.</text><text transform="translate(3.39,0.00) scale(1,1.057)" font-size="24.40">2</text></g>
<g transform="translate(387.40,697.20) scale(1.0,1)"><text transform="translate(-16.96,0.00) scale(1,1.057)" font-size="24.40">0</text><text transform="translate(-3.39,0.00) scale(1,1.02)" font-size="24.40">.</text><text transform="translate(3.39,0.00) scale(1,1.057)" font-size="24.40">4</text></g>
<g transform="translate(521.60,697.20) scale(1.0,1)"><text transform="translate(-16.96,0.00) scale(1,1.057)" font-size="24.40">0</text><text transform="translate(-3.39,0.00) scale(1,1.02)" font-size="24.40">.</text><text transform="translate(3.39,0.00) scale(1,1.057)" font-size="24.40">6</text></g>
<g transform="translate(655.80,697.20) scale(1.0,1)"><text transform="translate(-16.96,0.00) scale(1,1.057)" font-size="24.40">0</text><text transform="translate(-3.39,0.00) scale(1,1.02)" font-size="24.40">.</text><text transform="translate(3.39,0.00) scale(1,1.057)" font-size="24.40">8</text></g>
<g transform="translate(790.00,697.20) scale(1.0,1)"><path transform="translate(-16.96,0.00) scale(0.02440,-0.02579)" d="M259,0 L259,497 L102,497 L102,557 C196,565 262,603 292,698 L347,698 L347,0 Z"/><text transform="translate(-3.39,0.00) scale(1,1.02)" font-size="24.40">.</text><text transform="translate(3.39,0.00) scale(1,1.057)" font-size="24.40">0</text></g>
<g transform="translate(320.60,114.60) scale(1.0,1)"><text transform="translate(-0.70,0.00) scale(1.258,1.09)" font-family="'Liberation Serif', serif" font-size="24.40">α</text><path transform="translate(14.59,0.00) scale(0.02440,-0.02579)" d="M50,90 H545 V148 H50 Z M50,268 H545 V326 H50 Z"/><text transform="translate(28.55,0.00) scale(1,1.057)" font-size="24.40">0</text><text transform="translate(42.11,0.00) scale(1,1.02)" font-size="24.40">.</text><text transform="translate(48.90,0.00) scale(1,1.057)" font-size="24.40">8</text></g>
<g transform="translate(535.20,114.60) scale(1.0,1)"><text transform="translate(-0.70,0.00) scale(1.258,1.09)" font-family="'Liberation Serif', serif" font-size="24.40">α</text><path transform="translate(14.59,0.00) scale(0.02440,-0.02579)" d="M50,90 H545 V148 H50 Z M50,268 H545 V326 H50 Z"/><text transform="translate(28.55,0.00) scale(1,1.057)" font-size="24.40">0</text><text transform="translate(42.11,0.00) scale(1,1.02)" font-size="24.40">.</text><text transform="translate(48.90,0.00) scale(1,1.057)" font-size="24.40">9</text><text transform="translate(62.46,0.00) scale(1,1.057)" font-size="24.40">3</text></g>
<g transform="translate(588.80,153.30) scale(1.0,1)"><text transform="translate(-0.70,0.00) scale(1.258,1.09)" font-family="'Liberation Serif', serif" font-size="24.40">α</text><path transform="translate(14.59,0.00) scale(0.02440,-0.02579)" d="M50,90 H545 V148 H50 Z M50,268 H545 V326 H50 Z"/><path transform="translate(28.55,0.00) scale(0.02440,-0.02579)" d="M259,0 L259,497 L102,497 L102,557 C196,565 262,603 292,698 L347,698 L347,0 Z"/><text transform="translate(42.11,0.00) scale(1,1.02)" font-size="24.40">.</text><text transform="translate(48.90,0.00) scale(1,1.057)" font-size="24.40">0</text><text transform="translate(62.46,0.00) scale(1,1.057)" font-size="24.40">7</text></g>
<g transform="translate(454.80,448.50) scale(1.0,1)"><text transform="translate(-0.70,0.00) scale(1.258,1.09)" font-family="'Liberation Serif', serif" font-size="24.40">α</text><path transform="translate(14.59,0.00) scale(0.02440,-0.02579)" d="M50,90 H545 V148 H50 Z M50,268 H545 V326 H50 Z"/><text transform="translate(28.55,0.00) scale(1,1.057)" font-size="24.40">0</text><text transform="translate(42.11,0.00) scale(1,1.02)" font-size="24.40">.</text><text transform="translate(48.90,0.00) scale(1,1.057)" font-size="24.40">8</text></g>
<g transform="translate(676.40,563.80) scale(1.0,1)"><text transform="translate(-0.70,0.00) scale(1.258,1.09)" font-family="'Liberation Serif', serif" font-size="24.40">α</text><path transform="translate(14.59,0.00) scale(0.02440,-0.02579)" d="M50,90 H545 V148 H50 Z M50,268 H545 V326 H50 Z"/><text transform="translate(28.55,0.00) scale(1,1.057)" font-size="24.40">0</text><text transform="translate(42.11,0.00) scale(1,1.02)" font-size="24.40">.</text><text transform="translate(48.90,0.00) scale(1,1.057)" font-size="24.40">9</text><text transform="translate(62.46,0.00) scale(1,1.057)" font-size="24.40">3</text></g>
<g transform="translate(387.40,622.50) scale(1.0,1)"><text transform="translate(-0.70,0.00) scale(1.258,1.09)" font-family="'Liberation Serif', serif" font-size="24.40">α</text><path transform="translate(14.59,0.00) scale(0.02440,-0.02579)" d="M50,90 H545 V148 H50 Z M50,268 H545 V326 H50 Z"/><path transform="translate(28.55,0.00) scale(0.02440,-0.02579)" d="M259,0 L259,497 L102,497 L102,557 C196,565 262,603 292,698 L347,698 L347,0 Z"/><text transform="translate(42.11,0.00) scale(1,1.02)" font-size="24.40">.</text><text transform="translate(48.90,0.00) scale(1,1.057)" font-size="24.40">0</text><text transform="translate(62.46,0.00) scale(1,1.057)" font-size="24.40">7</text></g>
<g transform="translate(57.40,185.00) rotate(-90) scale(0.993,1)"><text transform="translate(-44.35,0.00) scale(1,1.02)" font-size="24.40">d</text><text transform="translate(-30.78,7.00) scale(1,1.02)" font-size="19.52">i</text><text transform="translate(-26.45,7.00) scale(1,1.02)" font-size="19.52">j</text><text transform="translate(-15.33,0.00) scale(1,0.975)" font-size="24.40">[</text><text transform="translate(-8.55,0.00) scale(1,1.035)" font-size="24.40">J</text><text transform="translate(3.65,-12.30) scale(1,1.057)" font-size="19.52">2</text><text transform="translate(14.51,0.00) scale(1,0.975)" font-size="24.40">/</text><text transform="translate(21.29,0.00) scale(1,1.035)" font-size="24.40">V</text><text transform="translate(37.56,0.00) scale(1,0.975)" font-size="24.40">]</text></g>
<g transform="translate(57.40,519.60) rotate(-90) scale(0.993,1)"><text transform="translate(-45.70,0.00) scale(1,1.035)" font-size="24.40">K</text><text transform="translate(-29.43,7.00) scale(1,1.02)" font-size="19.52">i</text><text transform="translate(-25.09,7.00) scale(1,1.02)" font-size="19.52">j</text><text transform="translate(-13.98,0.00) scale(1,0.975)" font-size="24.40">[</text><text transform="translate(-7.19,0.00) scale(1,1.035)" font-size="24.40">J</text><text transform="translate(5.01,-12.30) scale(1,1.057)" font-size="19.52">2</text><text transform="translate(15.86,0.00) scale(1,0.975)" font-size="24.40">/</text><text transform="translate(22.64,0.00) scale(1,1.035)" font-size="24.40">V</text><text transform="translate(38.92,0.00) scale(1,0.975)" font-size="24.40">]</text></g>
<g transform="translate(454.60,732.70) scale(1.0,1)"><path transform="translate(-23.57,0.00) scale(0.02440,-0.02579)" d="M94,-180 H166 V671 H94 Z"/><text transform="translate(-17.83,0.00) scale(1.03,0.955)" font-family="'Liberation Serif', serif" font-size="24.40">Δ</text><text transform="translate(-2.29,7.20) scale(1,1.02)" font-size="19.52">i</text><text transform="translate(2.04,7.20) scale(1,1.02)" font-size="19.52">i</text><text transform="translate(6.37,-10.90) scale(1,0.99)" font-size="19.52">b</text><path transform="translate(17.23,0.00) scale(0.02440,-0.02579)" d="M94,-180 H166 V671 H94 Z"/></g>
</g>
</svg>
</body></html>
